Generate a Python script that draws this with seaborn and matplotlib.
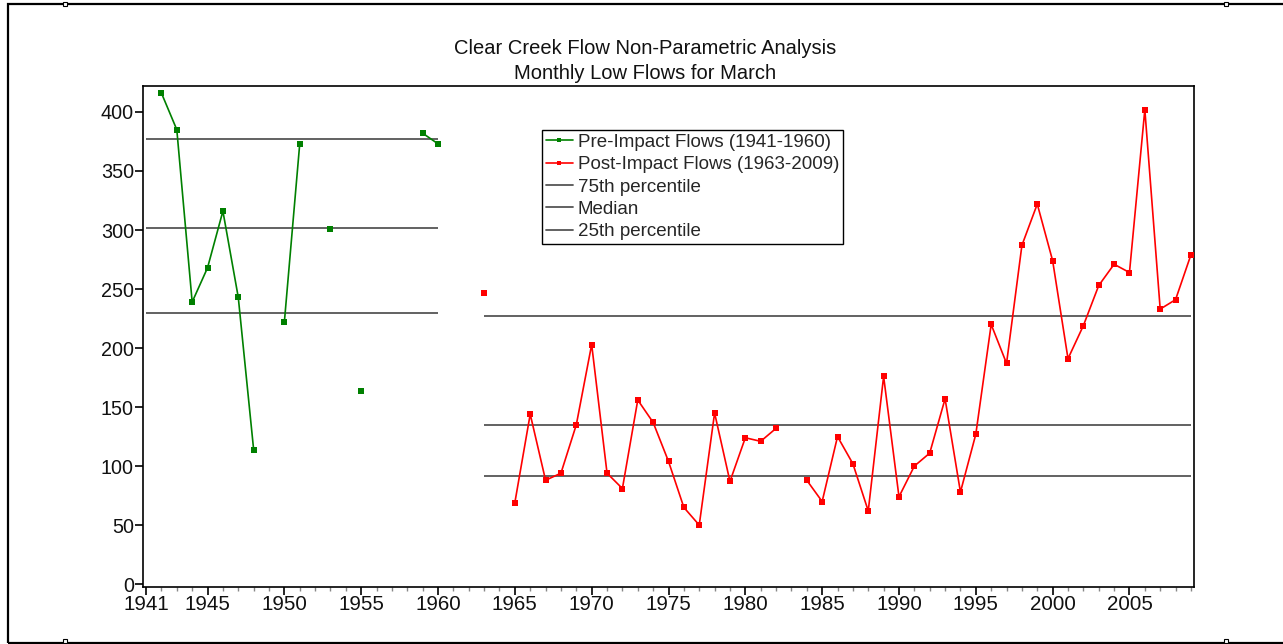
import numpy as np
import pandas as pd
import matplotlib
matplotlib.use("Agg")
import matplotlib.pyplot as plt
import seaborn as sns
from matplotlib.lines import Line2D
from matplotlib.patches import Rectangle
from matplotlib.ticker import MultipleLocator, FixedLocator

# ---- data ----
pre_years = [1942, 1943, 1944, 1945, 1946, 1947, 1948, 1950, 1951, 1953, 1955, 1959, 1960]
pre_flows = [416, 385, 239, 268, 316, 243, 114, 222, 373, 301, 164, 382, 373]

post_years = [1963] + list(range(1965, 1983)) + list(range(1984, 2010))
post_flows = [247,
              69, 144, 88, 94, 135, 203, 94, 81, 156, 137, 104, 65, 50, 145, 87, 124, 121, 132,
              88, 70, 125, 102, 62, 176, 74, 100, 111, 157, 78, 127, 220, 187, 287, 322, 274,
              191, 219, 253, 271, 264, 402, 233, 241, 279]

pre_span = (1941, 1960)
post_span = (1963, 2009)
pre_pct = {"p75": 377, "median": 301.5, "p25": 230}
post_pct = {"p75": 227, "median": 135, "p25": 91.5}

x_ticks = [1941, 1945, 1950, 1955, 1960, 1965, 1970, 1975, 1980, 1985, 1990, 1995, 2000, 2005]
y_ticks = [0, 50, 100, 150, 200, 250, 300, 350, 400]

title_lines = ["Clear Creek Flow Non-Parametric Analysis", "Monthly Low Flows for March"]
legend_labels = ["Pre-Impact Flows (1941-1960)", "Post-Impact Flows (1963-2009)",
                 "75th percentile", "Median", "25th percentile"]


def segmented(years, flows):
    df = pd.DataFrame({"year": years, "flow": flows})
    df["seg"] = (df["year"].diff().fillna(1) != 1).cumsum()
    return df


pre_df = segmented(pre_years, pre_flows)
post_df = segmented(post_years, post_flows)

sns.set_theme(style="ticks")
plt.rcParams["font.family"] = ["Liberation Sans", "DejaVu Sans"]

W, H = 1283, 644
fig = plt.figure(figsize=(W / 100, H / 100), dpi=100)
fig.patch.set_facecolor("white")

ax = fig.add_axes([143 / W, 1 - 586.5 / H, (1194 - 143) / W, (586.5 - 86) / H])

GREEN = "#008000"
RED = "#ff0000"
PCT = "#555555"

# percentile lines
for v in pre_pct.values():
    ax.hlines(v, pre_span[0], pre_span[1], color=PCT, lw=1.3, zorder=1)
for v in post_pct.values():
    ax.hlines(v, post_span[0], post_span[1], color=PCT, lw=1.3, zorder=1)

sns.lineplot(data=pre_df, x="year", y="flow", units="seg", estimator=None,
             color=GREEN, lw=1.2, marker="s", markersize=4.2, markeredgewidth=0,
             ax=ax, legend=False, zorder=3)
sns.lineplot(data=post_df, x="year", y="flow", units="seg", estimator=None,
             color=RED, lw=1.2, marker="s", markersize=4.2, markeredgewidth=0,
             ax=ax, legend=False, zorder=3)

ax.set_xlim(1940.8, 2009.2)
ax.set_ylim(-2, 422)
ax.set_xlabel("")
ax.set_ylabel("")

ax.xaxis.set_major_locator(FixedLocator(x_ticks))
ax.xaxis.set_minor_locator(MultipleLocator(1))
ax.yaxis.set_major_locator(FixedLocator(y_ticks))
ax.set_xticklabels([str(t) for t in x_ticks])
ax.set_yticklabels([str(t) for t in y_ticks])

ax.tick_params(axis="both", which="major", direction="out", length=5.5, width=1.2,
               color="black", labelcolor="#111111", pad=1)
ax.tick_params(axis="y", which="major", labelsize=14.2)
ax.tick_params(axis="x", which="major", labelsize=14.8, pad=0.5)
ax.tick_params(axis="x", which="minor", direction="out", length=3.2, width=1.0, color="#888888")

for s in ax.spines.values():
    s.set_visible(True)
    s.set_color("black")
    s.set_linewidth(1.2)
ax.grid(False)

# legend
handles = [
    Line2D([], [], color=GREEN, lw=1.2, marker="s", markersize=3.5, markeredgewidth=0),
    Line2D([], [], color=RED, lw=1.2, marker="s", markersize=3.5, markeredgewidth=0),
    Line2D([], [], color=PCT, lw=1.3),
    Line2D([], [], color=PCT, lw=1.3),
    Line2D([], [], color=PCT, lw=1.3),
]
leg = fig.legend(handles, legend_labels, loc="upper left",
                 bbox_to_anchor=(541.5 / W, 1 - 129.5 / H), bbox_transform=fig.transFigure,
                 fontsize=13.5, frameon=True, fancybox=False, shadow=False,
                 borderpad=0.22, labelspacing=0.28, handlelength=1.45, handletextpad=0.25,
                 borderaxespad=0, markerscale=1)
leg.get_frame().set_edgecolor("black")
leg.get_frame().set_linewidth(1.0)
leg.get_frame().set_alpha(1)

# title
fig.text(645 / W, 1 - 54 / H, title_lines[0], ha="center", va="baseline", fontsize=14.5, color="#111111")
fig.text(645 / W, 1 - 79 / H, title_lines[1], ha="center", va="baseline", fontsize=14.5, color="#111111")

# outer frame
fig.patches.append(Rectangle((8 / W, 1 - 642.5 / H), 1.05, (642.5 - 3.5) / H,
                             transform=fig.transFigure, fill=False, edgecolor="black",
                             lw=1.6, zorder=10))
for (px, py) in [(65, 4), (1226, 4), (65, 641), (1226, 641)]:
    fig.patches.append(Rectangle(((px - 2) / W, 1 - (py + 2) / H), 4 / W, 4 / H,
                                 transform=fig.transFigure, fill=True, facecolor="white",
                                 edgecolor="black", lw=0.8, zorder=11))

fig.savefig("out.png", dpi=100, facecolor="white")
